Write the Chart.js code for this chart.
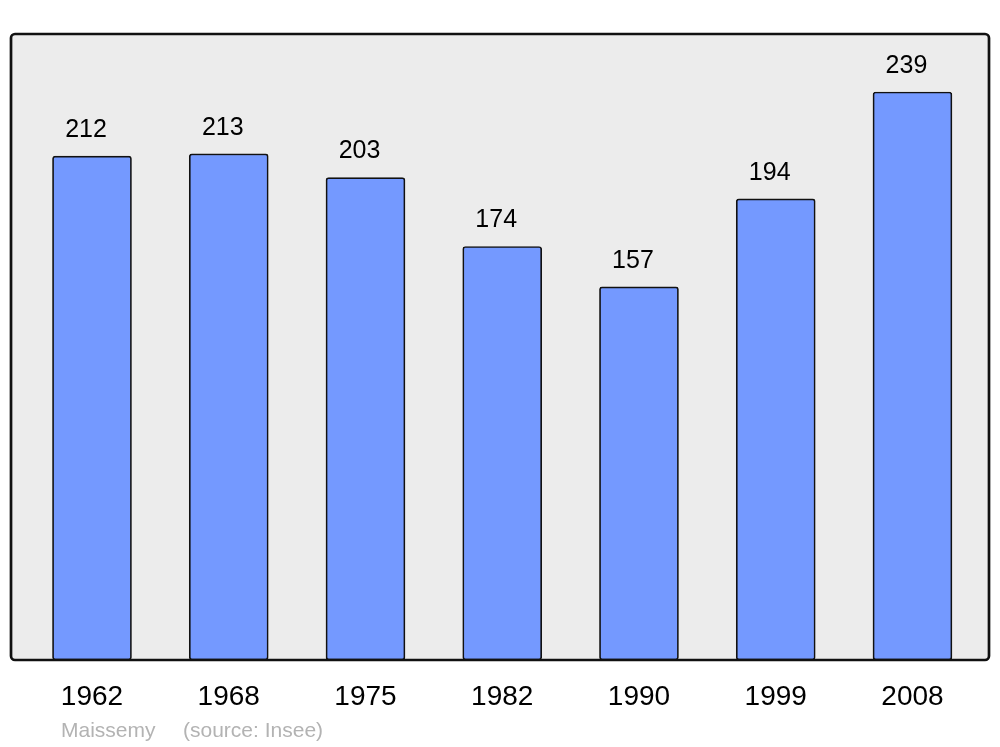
<!DOCTYPE html>
<html>
<head>
<meta charset="utf-8">
<script src="https://cdn.jsdelivr.net/npm/chart.js@4"></script>
<style>
  html,body{margin:0;padding:0;background:#fff;}
  .wrap{position:relative;width:1000px;height:747px;}
  #chart{display:block;}
  .foot{position:absolute;top:718px;font:21px "Liberation Sans",Arial,sans-serif;color:#b3b3b3;white-space:pre;}
</style>
</head>
<body>
<div class="wrap">
  <canvas id="chart" width="1000" height="747"></canvas>
  <div class="foot" style="left:61px">Maissemy</div>
  <div class="foot" style="left:183px">(source: Insee)</div>
</div>
<script>
// Population chart (Maissemy)
const years = ['1962','1968','1975','1982','1990','1999','2008'];
const population = [212, 213, 203, 174, 157, 194, 239];

(function(){
  const FONT = '"Liberation Sans", Arial, sans-serif';

  // frame behind / over the bars
  const framePlugin = {
    id: 'frame',
    beforeDatasetsDraw(chart){
      const {ctx, chartArea:a} = chart;
      ctx.save();
      ctx.beginPath();
      ctx.roundRect(a.left, a.top, a.right - a.left, a.bottom - a.top, 4);
      ctx.fillStyle = '#ececec';
      ctx.fill();
      ctx.restore();
    },
    afterDatasetsDraw(chart){
      const {ctx, chartArea:a} = chart;
      ctx.save();
      ctx.beginPath();
      ctx.roundRect(a.left, a.top, a.right - a.left, a.bottom - a.top, 4);
      ctx.lineWidth = 2.7;
      ctx.strokeStyle = '#111';
      ctx.stroke();
      ctx.restore();
    }
  };

  // value labels above bars
  const valuePlugin = {
    id: 'values',
    afterDatasetsDraw(chart){
      const {ctx} = chart;
      const meta = chart.getDatasetMeta(0);
      ctx.save();
      ctx.font = '25px ' + FONT;
      ctx.fillStyle = '#000';
      ctx.textAlign = 'center';
      ctx.textBaseline = 'middle';
      meta.data.forEach((bar, i)=>{
        ctx.fillText(String(population[i]), bar.x - 6, bar.y - 26);
      });
      ctx.restore();
    }
  };

  new Chart(document.getElementById('chart'), {
    type: 'bar',
    data: {
      datasets: [{
        data: population.map((v, i)=>({x: i, y: v})),
        backgroundColor: '#7499ff',
        borderColor: '#111',
        borderWidth: 1.7,
        borderRadius: 3,
        borderSkipped: false,
        barThickness: 79
      }]
    },
    options: {
      responsive: false,
      animation: false,
      layout: { padding: { left: 11, right: 11, top: 34, bottom: 0 } },
      plugins: { legend: { display: false }, tooltip: { enabled: false } },
      scales: {
        x: {
          type: 'linear',
          offset: false,
          min: -0.5923,
          max: 6.5597,
          grid: { display: false, drawTicks: false, offset: false },
          border: { display: false },
          afterBuildTicks: (scale)=>{ scale.ticks = years.map((_, i)=>({value: i})); },
          afterFit: (scale)=>{ scale.height = 87; },
          ticks: {
            padding: 20,
            color: '#000',
            font: { family: FONT, size: 28 },
            maxRotation: 0,
            autoSkip: false,
            callback: (v)=> years[v] ?? ''
          }
        },
        y: {
          display: false,
          min: 0,
          max: 263.4
        }
      }
    },
    plugins: [framePlugin, valuePlugin]
  });
})();
</script>
</body>
</html>
